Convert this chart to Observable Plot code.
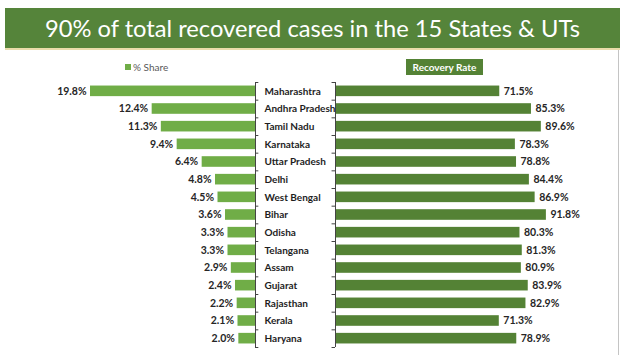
<!DOCTYPE html>
<html>
<head>
<meta charset="utf-8">
<script src="https://cdn.jsdelivr.net/npm/d3@7"></script>
<script src="https://cdn.jsdelivr.net/npm/@observablehq/plot@0.6"></script>
<style>
  html, body { margin: 0; padding: 0; background: #fff; }
  #root { position: relative; width: 624px; height: 359px; overflow: hidden; background: #fff; font-family: Lato, "Open Sans", sans-serif; }
  #banner { position: absolute; left: 5px; top: 8px; width: 615px; height: 40px; background: #55843a; border-bottom: 2px solid #e9dcaa; color: #fff; font-family: Lato, sans-serif; font-size: 23.7px; line-height: 41px; text-align: center; }
  #legL { position: absolute; left: 125px; top: 60px; font-size: 10px; color: #595959; line-height: 14px; }
  #legL span { display: inline-block; width: 6px; height: 6px; background: #70ad47; margin-right: 2px; vertical-align: 1px; }
  #legR { position: absolute; left: 406px; top: 59px; width: 77px; height: 16px; background: #548235; color: #fff; font-size: 10px; font-weight: bold; line-height: 16px; text-align: center; }
  #edge { position: absolute; left: 618px; top: 50px; width: 1px; height: 305px; background: #c4c4c4; }
  .plot { position: absolute; top: 0; }
</style>
</head>
<body>
<div id="root">
  <div id="banner">90% of total recovered cases in the 15 States &amp; UTs</div>
  <div id="legL"><span></span>% Share</div>
  <div id="legR">Recovery Rate</div>
  <div id="edge"></div>
</div>
<script>
const states = ["Maharashtra","Andhra Pradesh","Tamil Nadu","Karnataka","Uttar Pradesh","Delhi","West Bengal","Bihar","Odisha","Telangana","Assam","Gujarat","Rajasthan","Kerala","Haryana"];
const share = [19.8,12.4,11.3,9.4,6.4,4.8,4.5,3.6,3.3,3.3,2.9,2.4,2.2,2.1,2.0];
const recovery = [71.5,85.3,89.6,78.3,78.8,84.4,86.9,91.8,80.3,81.3,80.9,83.9,82.9,71.3,78.9];

const rows = states.map((s, i) => ({state: s, i, share: share[i], recovery: recovery[i]}));
const bounds = d3.range(states.length + 1).map(i => i - 0.5);
const half = 0.3;
const font = "Lato, 'Open Sans', sans-serif";

const common = {
  height: 359,
  marginTop: 82,
  marginBottom: 12,
  y: {domain: [-0.5, states.length - 0.5], reverse: true, axis: null},
  style: {fontFamily: font, background: "transparent", overflow: "visible"}
};

const left = Plot.plot({
  ...common,
  width: 335,
  marginLeft: 0,
  marginRight: 80,
  x: {domain: [0, 30.6], reverse: true, axis: null},
  marks: [
    Plot.rect(rows, {x1: d => 0, x2: "share", y1: d => d.i - half, y2: d => d.i + half, fill: "#70ad47"}),
    Plot.text(rows, {x: "share", y: "i", text: d => d.share.toFixed(1) + "%", textAnchor: "end", dx: -4, fontSize: 10.5, fontWeight: "bold", fill: "#262626"}),
    Plot.ruleX([0], {y1: -0.5, y2: states.length - 0.5, stroke: "#444", strokeWidth: 1}),
    Plot.ruleY(bounds, {y: d => d, x1: d => 0, x2: d => -0.4, stroke: "#444", strokeWidth: 1}),
    Plot.text(rows, {x: d => 0, y: "i", text: "state", textAnchor: "start", dx: 9, fontSize: 10, fontWeight: "bold", fill: "#1e1e1e"})
  ]
});
left.classList.add("plot");
left.style.left = "0px";

const right = Plot.plot({
  ...common,
  width: 299,
  marginLeft: 10,
  marginRight: 0,
  x: {domain: [0, 125.8], axis: null},
  marks: [
    Plot.rect(rows, {x1: d => 0, x2: "recovery", y1: d => d.i - half, y2: d => d.i + half, fill: "#548235"}),
    Plot.text(rows, {x: "recovery", y: "i", text: d => d.recovery.toFixed(1) + "%", textAnchor: "start", dx: 4, fontSize: 10.5, fontWeight: "bold", fill: "#262626"}),
    Plot.ruleX([0], {y1: -0.5, y2: states.length - 0.5, stroke: "#444", strokeWidth: 1}),
    Plot.ruleY(bounds, {y: d => d, x1: d => 0, x2: d => -1.5, stroke: "#444", strokeWidth: 1})
  ]
});
right.classList.add("plot");
right.style.left = "325px";

document.getElementById("root").append(left, right);
</script>
</body>
</html>
